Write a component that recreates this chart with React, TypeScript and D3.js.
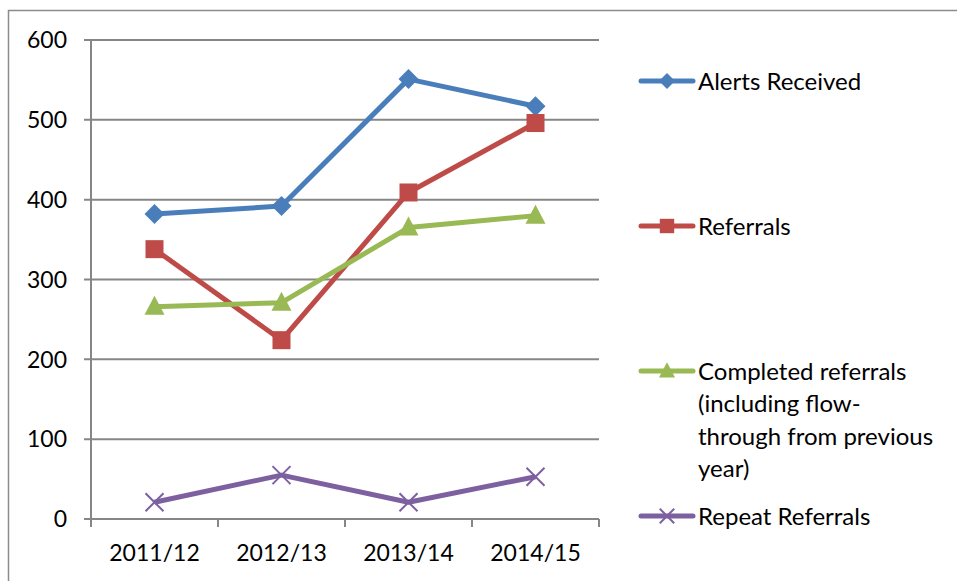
import React, { useEffect, useRef } from 'react';
import * as d3 from 'd3';

const categories = ['2011/12', '2012/13', '2013/14', '2014/15'];
const alertsReceived = [382, 392, 551, 517];
const referrals = [338, 224, 409, 496];
const completedReferrals = [266, 271, 365, 380];
const repeatReferrals = [21, 55, 21, 53];
const yTicks = [0, 100, 200, 300, 400, 500, 600];

const series = [
  { name: ['Alerts Received'], values: alertsReceived, color: '#4A7EBB', marker: 'diamond' },
  { name: ['Referrals'], values: referrals, color: '#BE4B48', marker: 'square' },
  {
    name: ['Completed referrals', '(including flow-', 'through from previous', 'year)'],
    values: completedReferrals,
    color: '#98B954',
    marker: 'triangle',
  },
  { name: ['Repeat Referrals'], values: repeatReferrals, color: '#7D60A0', marker: 'x' },
];

const FONT = 'Lato, "Open Sans", sans-serif';

const drawMarker = (g, type, x, y, color, s) => {
  if (type === 'diamond') {
    g.append('path')
      .attr('d', `M${x},${y - s}L${x + s},${y}L${x},${y + s}L${x - s},${y}Z`)
      .attr('fill', color);
  } else if (type === 'square') {
    g.append('rect')
      .attr('x', x - s * 0.9).attr('y', y - s * 0.9)
      .attr('width', s * 1.8).attr('height', s * 1.8)
      .attr('fill', color);
  } else if (type === 'triangle') {
    g.append('path')
      .attr('d', `M${x},${y - s * 1.1}L${x + s},${y + s * 0.8}L${x - s},${y + s * 0.8}Z`)
      .attr('fill', color);
  } else {
    const k = s * 0.9;
    g.append('path')
      .attr('d', `M${x - k},${y - k}L${x + k},${y + k}M${x - k},${y + k}L${x + k},${y - k}`)
      .attr('stroke', color).attr('stroke-width', 2).attr('fill', 'none');
  }
};

const Chart = () => {
  const ref = useRef(null);

  useEffect(() => {
    const svg = d3.select(ref.current);
    svg.selectAll('*').remove();

    const left = 91, right = 599, top = 40, bottom = 519;

    // outer chart border
    svg.append('rect')
      .attr('x', 8.5).attr('y', 10.5)
      .attr('width', 1000).attr('height', 1000)
      .attr('fill', 'none').attr('stroke', '#8c8c8c').attr('stroke-width', 1.5);

    const x = d3.scaleBand().domain(categories).range([left, right]);
    const y = d3.scaleLinear().domain([0, 600]).range([bottom, top]);

    // gridlines
    svg.append('g')
      .selectAll('line')
      .data(yTicks)
      .join('line')
      .attr('x1', left - 7).attr('x2', right)
      .attr('y1', (d) => y(d)).attr('y2', (d) => y(d))
      .attr('stroke', '#868686').attr('stroke-width', 2);

    // y axis line
    svg.append('line')
      .attr('x1', left).attr('x2', left).attr('y1', top).attr('y2', bottom + 8)
      .attr('stroke', '#868686').attr('stroke-width', 2);

    // x ticks between categories
    const bounds = categories.map((c) => x(c)).concat([right]);
    svg.append('g')
      .selectAll('line')
      .data(bounds.slice(1))
      .join('line')
      .attr('x1', (d) => d).attr('x2', (d) => d)
      .attr('y1', bottom).attr('y2', bottom + 8)
      .attr('stroke', '#868686').attr('stroke-width', 2);

    // y labels
    svg.append('g')
      .selectAll('text')
      .data(yTicks)
      .join('text')
      .attr('x', 67).attr('y', (d) => y(d))
      .attr('dy', '0.36em')
      .attr('text-anchor', 'end')
      .attr('font-family', FONT).attr('font-size', 23)
      .text((d) => d);

    // x labels
    svg.append('g')
      .selectAll('text')
      .data(categories)
      .join('text')
      .attr('x', (d) => x(d) + x.bandwidth() / 2).attr('y', 561)
      .attr('text-anchor', 'middle')
      .attr('font-family', FONT).attr('font-size', 23)
      .text((d) => d);

    const line = d3.line()
      .x((d, i) => x(categories[i]) + x.bandwidth() / 2)
      .y((d) => y(d));

    series.forEach((s) => {
      const g = svg.append('g');
      g.append('path')
        .datum(s.values)
        .attr('d', line)
        .attr('fill', 'none')
        .attr('stroke', s.color)
        .attr('stroke-width', 5)
        .attr('stroke-linejoin', 'round');
      s.values.forEach((v, i) => {
        drawMarker(g, s.marker, x(categories[i]) + x.bandwidth() / 2, y(v), s.color, 10);
      });
    });

    // legend
    const legendRows = [81, 226, 371, 516];
    series.forEach((s, i) => {
      const g = svg.append('g');
      const ly = legendRows[i];
      g.append('line')
        .attr('x1', 641).attr('x2', 693).attr('y1', ly).attr('y2', ly)
        .attr('stroke', s.color).attr('stroke-width', 5).attr('stroke-linecap', 'round');
      drawMarker(g, s.marker, 667, ly, s.color, 8);
      g.append('text')
        .attr('x', 698).attr('y', ly)
        .attr('font-family', FONT).attr('font-size', 24)
        .selectAll('tspan')
        .data(s.name)
        .join('tspan')
        .attr('x', 698)
        .attr('y', (d, j) => ly + j * 32.5)
        .attr('dy', '0.36em')
        .text((d) => d);
    });
  }, []);

  return <svg ref={ref} width={957} height={581} style={{ display: 'block' }} />;
};

export default function App() {
  return (
    <div style={{ position: 'absolute', left: 0, top: 0 }}>
      <Chart />
    </div>
  );
}
